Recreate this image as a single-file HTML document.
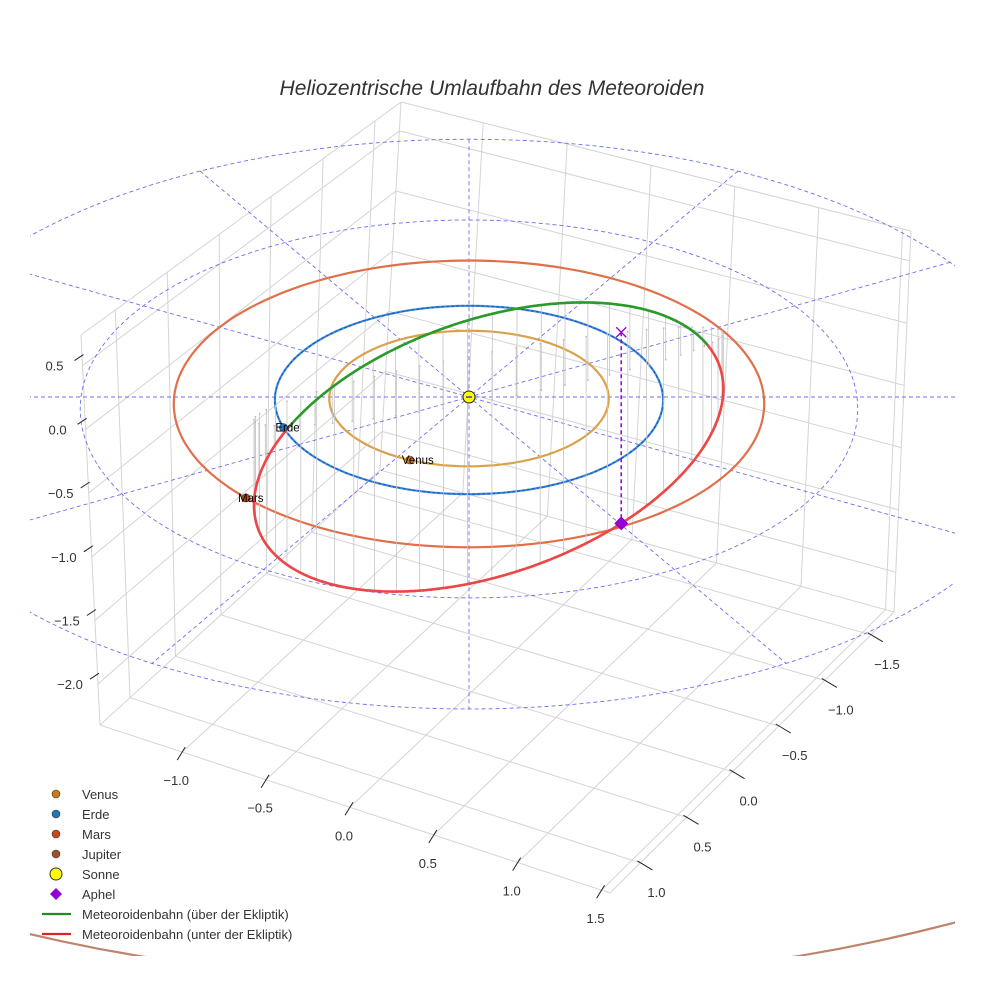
<!DOCTYPE html>
<html><head><meta charset="utf-8"><style>
html,body{margin:0;padding:0;background:#fff;}
svg{display:block;font-family:"Liberation Sans",sans-serif;}
</style></head><body>
<svg id="chart" width="984" height="984" viewBox="0 0 984 984" xmlns="http://www.w3.org/2000/svg">
<defs>
<clipPath id="clipA"><rect x="30" y="0" width="925" height="956"/></clipPath>
<clipPath id="clipJ"><rect x="30" y="700" width="925" height="256"/></clipPath>
</defs>
<rect x="0" y="0" width="984" height="984" fill="#fff"/>
<text x="492" y="95" text-anchor="middle" font-size="21" font-style="italic" fill="#333">Heliozentrische Umlaufbahn des Meteoroiden</text>
<g id="box"></g>
<g id="jup" clip-path="url(#clipJ)"></g>
<g id="plot" clip-path="url(#clipA)"></g>
<g id="legend"></g>
</svg>
<script>
// ---- data ----
const xTicks = [-1.0, -0.5, 0.0, 0.5, 1.0, 1.5];
const yTicks = [-1.5, -1.0, -0.5, 0.0, 0.5, 1.0];
const zTicks = [-2.0, -1.5, -1.0, -0.5, 0.0, 0.5];
const xRange = [-1.49, 1.55];
const yRange = [-1.75, 1.33];
const zRange = [-2.32, 0.74];
const planetNames = ["Venus", "Erde", "Mars", "Jupiter"];
const planetRadii = [0.72, 1.0, 1.52, 5.2];
const planetAnglesDeg = [114.5, 161.3, 137.0, null];
const planetColors = ["#c97b12", "#1f77b4", "#c84a16", "#a0522d"];
const orbitLineColors = ["#d9a24a", "#3f8fd2", "#e0704a", "#c0846a"];
const dashedRadii = [2.0, 3.0];
const radialAnglesDeg = [0, 30, 60, 90, 120, 150];
// meteoroid orbit: [constant, cos coefficient, sin coefficient]
const orbitU = [0.12, 1.22, 0.0];
const orbitV = [-0.228, -0.466, -0.259];
const orbitZ = [-0.572, 0.110, -1.255];
const aphelAnomalyDeg = 56;
const legendLabels = ["Venus","Erde","Mars","Jupiter","Sonne","Aphel","Meteoroidenbahn (über der Ekliptik)","Meteoroidenbahn (unter der Ekliptik)"];

const NS = "http://www.w3.org/2000/svg";
function mk(parent, tag, attrs){ const e=document.createElementNS(NS,tag); for(const k in attrs) e.setAttribute(k,attrs[k]); parent.appendChild(e); return e; }
const box=document.getElementById('box'), plot=document.getElementById('plot'), legend=document.getElementById('legend'), jup=document.getElementById('jup');

function P(u,v,z){ const w=1/(1-0.0317*v); return [469+194*u*w, 397+(94.1*v-126*z)*w]; }

const L=[100,725], F=[610,893], R=[894,612], B=[380,470], LT=[81,335], BT=[401,102], RT=[911,231];
function bil(A,Bq,C,D,s,t){ return [A[0]*(1-s)*(1-t)+Bq[0]*s*(1-t)+C[0]*(1-s)*t+D[0]*s*t, A[1]*(1-s)*(1-t)+Bq[1]*s*(1-t)+C[1]*(1-s)*t+D[1]*s*t]; }
const sx = x => (x-xRange[0])/(xRange[1]-xRange[0]);
const ty = y => (yRange[1]-y)/(yRange[1]-yRange[0]);
const hz = z => (z-zRange[0])/(zRange[1]-zRange[0]);
function ln(parent,a,b,st,wd,name){ const e=mk(parent,'line',{x1:a[0].toFixed(1),y1:a[1].toFixed(1),x2:b[0].toFixed(1),y2:b[1].toFixed(1),stroke:st,'stroke-width':wd});
  
  
  return e; }

const gc="#d4d4d4";
[[L,F],[F,R],[L,B],[B,R],[L,LT],[B,BT],[R,RT],[LT,BT],[BT,RT]].forEach(p=>ln(box,p[0],p[1],gc,1,'pane-edge'));
xTicks.forEach(x=>{ const s=sx(x);
  ln(box,bil(L,F,B,R,s,0),bil(L,F,B,R,s,1),gc,1,'floor-gridline-x');
  ln(box,bil(B,R,BT,RT,s,0),bil(B,R,BT,RT,s,1),gc,1,'back-gridline-x');
  const e=bil(L,F,B,R,s,0);
  ln(box,[e[0]+3,e[1]-5],[e[0]-5,e[1]+8],"#222",1,'x-tick');
  const t=mk(box,'text',{x:(e[0]-6).toFixed(1),y:(e[1]+33).toFixed(1),'text-anchor':'middle','font-size':13,fill:'#333'});
   
  t.textContent=(x<0?'\u2212':'')+Math.abs(x).toFixed(1);
});
yTicks.forEach(y=>{ const t0=ty(y);
  ln(box,bil(L,F,B,R,0,t0),bil(L,F,B,R,1,t0),gc,1,'floor-gridline-y');
  ln(box,bil(L,B,LT,BT,t0,0),bil(L,B,LT,BT,t0,1),gc,1,'side-gridline-y');
  const e=bil(L,F,B,R,1,t0);
  ln(box,[e[0]-3,e[1]-2],[e[0]+12,e[1]+7],"#222",1,'y-tick');
  const t=mk(box,'text',{x:(e[0]+16).toFixed(1),y:(e[1]+34).toFixed(1),'text-anchor':'middle','font-size':13,fill:'#333'});
   
  t.textContent=(y<0?'\u2212':'')+Math.abs(y).toFixed(1);
});
zTicks.forEach(z=>{ const h=hz(z);
  ln(box,bil(L,B,LT,BT,0,h),bil(L,B,LT,BT,1,h),gc,1,'side-gridline-z');
  ln(box,bil(B,R,BT,RT,0,h),bil(B,R,BT,RT,1,h),gc,1,'back-gridline-z');
  const e=bil(L,B,LT,BT,0,h);
  ln(box,[e[0]+1,e[1]-11],[e[0]-8,e[1]-5],"#222",1,'z-tick');
  const t=mk(box,'text',{x:(e[0]-28).toFixed(1),y:(e[1]+5).toFixed(1),'text-anchor':'middle','font-size':13,fill:'#333'});
   
  t.textContent=(z<0?'\u2212':'')+Math.abs(z).toFixed(1);
});

function pathFrom(pts){ return pts.map((p,i)=>(i?'L':'M')+p[0].toFixed(1)+' '+p[1].toFixed(1)).join(' '); }
function circlePts(r){ const a=[]; for(let i=0;i<=360;i+=2){const t=i*Math.PI/180; a.push(P(r*Math.cos(t),r*Math.sin(t),0));} return a; }

dashedRadii.forEach(r=>{ const e=mk(plot,'path',{d:pathFrom(circlePts(r)),fill:'none',stroke:'#5555ee','stroke-width':0.9,'stroke-dasharray':'4 3',opacity:0.85});
    });
const rMax=Math.max(...dashedRadii);
radialAnglesDeg.forEach(a=>{ const t=a*Math.PI/180;
  const e=mk(plot,'path',{d:pathFrom([P(-rMax*Math.cos(t),-rMax*Math.sin(t),0),P(rMax*Math.cos(t),rMax*Math.sin(t),0)]),fill:'none',stroke:'#5555ee','stroke-width':0.9,'stroke-dasharray':'4 3',opacity:0.85});
    });

planetRadii.forEach((r,i)=>{ const parent = r>4 ? jup : plot;
  const e=mk(parent,'path',{d:pathFrom(circlePts(r)),fill:'none',stroke:orbitLineColors[i],'stroke-width':2.2});
    });
{ const e=mk(plot,'path',{d:pathFrom(circlePts(planetRadii[1])),fill:'none',stroke:'#1f4fcc','stroke-width':1,'stroke-dasharray':'3 2'});
    }

function orb(tDeg){ const t=tDeg*Math.PI/180, c=Math.cos(t), s=Math.sin(t);
  return [orbitU[0]+orbitU[1]*c+orbitU[2]*s, orbitV[0]+orbitV[1]*c+orbitV[2]*s, orbitZ[0]+orbitZ[1]*c+orbitZ[2]*s]; }
for(let d=0; d<360; d+=6){ const o=orb(d); const a=P(o[0],o[1],o[2]), b=P(o[0],o[1],0);
  ln(plot,a,b,'#c4c4c4',0.8,'orbit-stem');
  const c=mk(plot,'circle',{cx:b[0].toFixed(1),cy:b[1].toFixed(1),r:0.9,fill:'#bbb'});
    }
for(let d=0; d<360; d+=1){ const o1=orb(d), o2=orb(d+1.2); const above=(o1[2]+o2[2])/2>=0;
  const e=mk(plot,'path',{d:pathFrom([P(...o1),P(...o2)]),fill:'none',stroke:above?'#2a9a2a':'#ec4646','stroke-width':2.6});
    }

{ const o=orb(aphelAnomalyDeg); const a=P(o[0],o[1],o[2]), b=P(o[0],o[1],0);
  const e=mk(plot,'path',{d:pathFrom([b,a]),stroke:'#9400d3','stroke-width':1.5,'stroke-dasharray':'4 3',fill:'none'});
   
  const x=mk(plot,'path',{d:`M${b[0]-5} ${b[1]-5}L${b[0]+5} ${b[1]+5}M${b[0]-5} ${b[1]+5}L${b[0]+5} ${b[1]-5}`,stroke:'#9400d3','stroke-width':1.3});
   
  const dm=mk(plot,'path',{d:`M${a[0]} ${a[1]-7}L${a[0]+7} ${a[1]}L${a[0]} ${a[1]+7}L${a[0]-7} ${a[1]}Z`,fill:'#9400d3'});
    }

{ const s=P(0,0,0);
  const c=mk(plot,'circle',{cx:s[0],cy:s[1],r:6,fill:'#ffff00',stroke:'#222','stroke-width':1});
   
  ln(plot,[s[0]-3,s[1]],[s[0]+3,s[1]],'#3344cc',1.5,'sun-center'); }

planetRadii.forEach((r,i)=>{ if(planetAnglesDeg[i]===null) return; const t=planetAnglesDeg[i]*Math.PI/180;
  const p=P(r*Math.cos(t),r*Math.sin(t),0);
  const c=mk(plot,'circle',{cx:p[0].toFixed(1),cy:p[1].toFixed(1),r:4,fill:planetColors[i],stroke:'#333','stroke-width':0.6});
   
  const tx=mk(plot,'text',{x:(p[0]-8).toFixed(1),y:(p[1]+4).toFixed(1),'font-size':11.5,fill:'#000'});
   
  tx.textContent=planetNames[i]; });

legendLabels.forEach((lab,i)=>{ const y=794+i*20; const g=mk(legend,'g',{});
   
  let m;
  if(i<4) m=mk(g,'circle',{cx:56,cy:y,r:4,fill:planetColors[i],stroke:'#333','stroke-width':0.6});
  else if(i===4) m=mk(g,'circle',{cx:56,cy:y,r:6,fill:'#ffff00',stroke:'#333','stroke-width':1});
  else if(i===5) m=mk(g,'path',{d:`M56 ${y-6}L62 ${y}L56 ${y+6}L50 ${y}Z`,fill:'#9400d3'});
  else m=mk(g,'line',{x1:42,y1:y,x2:71,y2:y,stroke:i===6?'#228b22':'#d62728','stroke-width':2.2});
   
  const t=mk(g,'text',{x:82,y:y+5,'font-size':13,fill:'#333'});
   
  t.textContent=lab; });
</script>
</body></html>
